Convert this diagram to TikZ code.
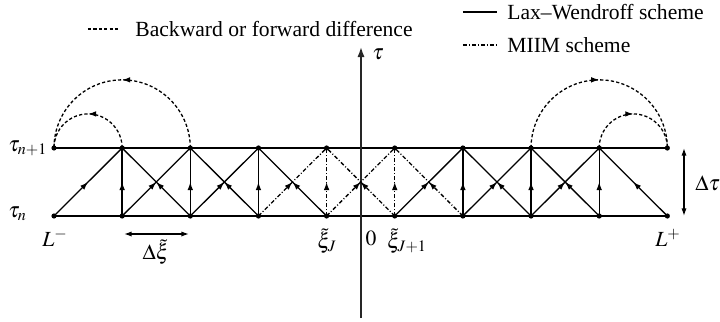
\documentclass[tikz,border=0pt]{standalone}
\usepackage{mathptmx}
\usepackage[no-math]{fontspec}
\setmainfont{Liberation Serif}
\usetikzlibrary{arrows.meta,decorations.markings}
\tikzset{
  ln/.style={line width=0.65pt},
  dot/.style={circle,fill,inner sep=0pt,minimum size=2.6pt},
  midarrow/.style={postaction={decorate},decoration={markings,mark=at position 0.5 with {\arrow{Latex[length=4pt,width=2.8pt]}}}},
  dd/.style={dash pattern=on 2pt off 1pt on 0.5pt off 1pt},
  dsh/.style={dash pattern=on 1.6pt off 1.1pt},
  lbl/.style={inner sep=0pt},
}
\begin{document}
\begin{tikzpicture}[x=0.5pt,y=-0.5pt,font=\fontsize{10.8}{12.5}\selectfont]
\useasboundingbox (0,0) rectangle (720,322);
% grid nodes
\foreach \i in {0,...,9}{
  \pgfmathsetmacro{\xx}{54+68.15*\i}
  \node[dot] (t\i) at (\xx,148) {};
  \node[dot] (b\i) at (\xx,216) {};
}
% horizontal lines
\draw[ln] (t0.center) -- (t9.center);
\draw[ln] (b0.center) -- (b9.center);
% axis
\coordinate (ax0) at (361,318);
\coordinate (ax1) at (361,47);
\draw[line width=0.8pt,black!85,-{Latex[length=5pt,width=3.6pt]}] (ax0) -- (ax1);
\node[lbl,anchor=west] (tau) at (372,54) {$\tau$};
% outer diagonals
\draw[ln,midarrow] (b0.center) -- (t1.center);
\draw[ln,midarrow] (b9.center) -- (t8.center);
% verticals
\foreach \i in {1,2,3,6,7,8}{\draw[ln,midarrow] (b\i.center) -- (t\i.center);}
\foreach \i in {4,5}{\draw[ln,dd,midarrow] (b\i.center) -- (t\i.center);}
% crossing diagonals
\foreach \i/\j in {1/2,2/3,6/7,7/8}{
  \draw[ln,midarrow] (b\i.center) -- (t\j.center);
  \draw[ln,midarrow] (b\j.center) -- (t\i.center);
}
\draw[ln,dd,midarrow] (b3.center) -- (t4.center);
\draw[ln,midarrow] (b4.center) -- (t3.center);
\draw[ln,dd,midarrow] (b4.center) -- (t5.center);
\draw[ln,dd,midarrow] (b5.center) -- (t4.center);
\draw[ln,midarrow] (b5.center) -- (t6.center);
\draw[ln,dd,midarrow] (b6.center) -- (t5.center);
% dashed arcs
\draw[ln,dsh,midarrow] (t1.center) arc[start angle=0,end angle=-180,radius=34.075];
\draw[ln,dsh,midarrow] (t2.center) arc[start angle=0,end angle=-180,radius=68.15];
\draw[ln,dsh,midarrow] (t7.center) arc[start angle=180,end angle=360,radius=68.15];
\draw[ln,dsh,midarrow] (t8.center) arc[start angle=180,end angle=360,radius=34.075];
% delta arrows
\coordinate (dx0) at (124,234);
\coordinate (dx1) at (189,234);
\draw[ln,{Latex[length=3.8pt,width=2.6pt]}-{Latex[length=3.8pt,width=2.6pt]}] (dx0) -- (dx1);
\coordinate (dt0) at (684,148);
\coordinate (dt1) at (684,216);
\draw[ln,{Latex[length=3.8pt,width=2.6pt]}-{Latex[length=3.8pt,width=2.6pt]}] (dt0) -- (dt1);
\node[lbl] (dxl) at (156,252) {$\Delta\tilde{\xi}$};
\node[lbl,anchor=west] (dtl) at (695,183) {$\Delta\tau$};
% labels
\node[lbl,anchor=west] (ln1) at (8,148) {$\tau_{n+1}$};
\node[lbl,anchor=west] (ln0) at (8,214) {$\tau_{n}$};
\node[lbl] (lm) at (55,238) {$L^{-}$};
\node[lbl] (lp) at (668,238) {$L^{+}$};
\node[lbl] (xj) at (327,241) {$\tilde{\xi}_J$};
\node[lbl] (zero) at (371,238) {$0$};
\node[lbl] (xj1) at (407,241) {$\tilde{\xi}_{J+1}$};
% legend
\coordinate (lg1a) at (88,29); \coordinate (lg1b) at (118,29);
\draw[ln,dsh] (lg1a) -- (lg1b);
\node[lbl,anchor=west] (lgt1) at (135,29) {Backward or forward difference};
\coordinate (lg2a) at (463,12); \coordinate (lg2b) at (497,12);
\draw[ln] (lg2a) -- (lg2b);
\node[lbl,anchor=west] (lgt2) at (507,12) {Lax--Wendroff scheme};
\coordinate (lg3a) at (463,45); \coordinate (lg3b) at (497,45);
\draw[ln,dd] (lg3a) -- (lg3b);
\node[lbl,anchor=west] (lgt3) at (507,45) {MIIM scheme};
\end{tikzpicture}
\end{document}
